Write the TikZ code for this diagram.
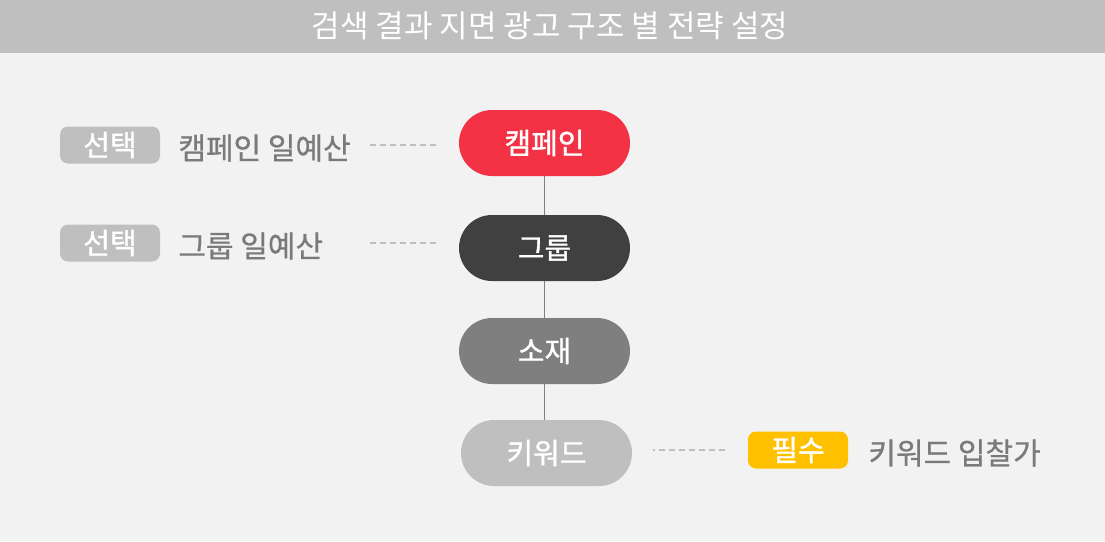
\documentclass[tikz,border=0pt]{standalone}
\usepackage{fontspec}
\setmainfont{Noto Sans CJK KR}
\newfontfamily\midfont[FakeBold=1.2]{Noto Sans CJK KR}
\newfontfamily\sidefont[FakeBold=0.7]{Noto Sans CJK KR}
\usetikzlibrary{positioning}
\definecolor{bgc}{HTML}{F2F2F2}
\definecolor{barc}{HTML}{BFBFBF}
\definecolor{campc}{HTML}{F43245}
\definecolor{grpc}{HTML}{404040}
\definecolor{matc}{HTML}{7F7F7F}
\definecolor{kwc}{HTML}{BFBFBF}
\definecolor{needc}{HTML}{FFC000}
\definecolor{txtc}{HTML}{7A7A7A}

\begin{document}
\begin{tikzpicture}[x=1pt,y=-1pt,
    level/.style={rounded corners=33pt,minimum width=171pt,minimum height=66pt,inner sep=0pt,text=white,font=\fontsize{29}{32}\midfont},
    badge/.style={rounded corners=8pt,minimum width=100pt,minimum height=37pt,inner sep=0pt,text=white,font=\fontsize{29}{32}\midfont},
    side/.style={anchor=west,inner sep=0pt,text=txtc,font=\fontsize{30}{34}\sidefont},
    dashline/.style={draw=barc,line width=2pt,dash pattern=on 6pt off 4pt}]

    \useasboundingbox (0,0) rectangle (1105,541);
    \fill[bgc] (0,0) rectangle (1105,541);
    \fill[barc] (0,0) rectangle (1105,53);
    \node[text=white,font=\fontsize{31}{34}\selectfont] (title) at (550,26) {검색 결과 지면 광고 구조 별 전략 설정};

    % levels
    \path
    (544.5,143) node[level,fill=campc] (camp) {캠페인}
    (544.5,248) node[level,fill=grpc]  (grp)  {그룹}
    (544.5,351) node[level,fill=matc]  (mat)  {소재}
    (546.5,453) node[level,fill=kwc]   (kw)   {키워드};

    \draw[matc,line width=1pt] (camp.south)--(camp.south|-grp.north) (grp)--(mat) (mat.south)--(mat.south|-kw.north);

    % options
    \path
    (110,145) node[badge,fill=barc]  (opt1) {선택}
    (110,243) node[badge,fill=barc]  (opt2) {선택}
    (798,450) node[badge,fill=needc] (need) {필수};
    \node[side,right=18pt of opt1,yshift=-3pt] (bud1) {캠페인 일예산};
    \node[side,right=18pt of opt2,yshift=-3pt] (bud2) {그룹 일예산};
    \node[side,right=20pt of need,yshift=-3pt] (bid)  {키워드 입찰가};

    \coordinate (d1) at (370,145);
    \coordinate (d2) at (370,243);
    \coordinate (d3) at (725,450);
    \draw[dashline] (d1) -- ([xshift=-19pt]camp.west|-d1);
    \draw[dashline] (d2) -- ([xshift=-19pt]grp.west|-d2);
    \draw[dashline] (d3) -- ([xshift=21pt]kw.east|-d3);

\end{tikzpicture}
\end{document}
